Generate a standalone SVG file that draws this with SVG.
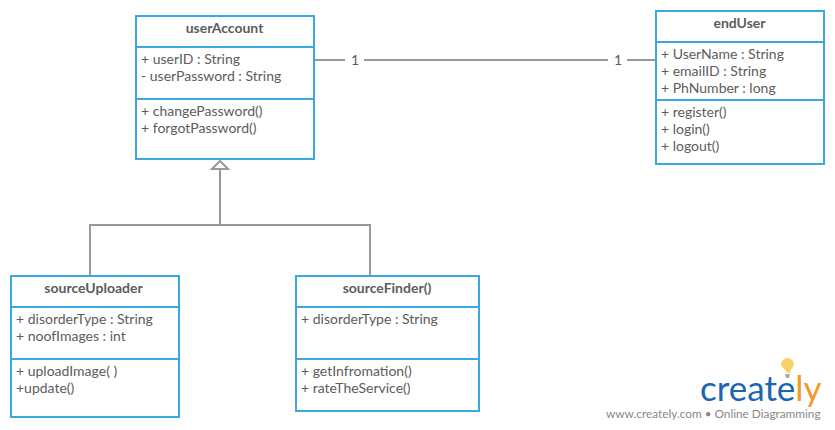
<svg xmlns="http://www.w3.org/2000/svg" width="835" height="430" viewBox="0 0 835 430">
<style>
text{font-family:Lato,"Open Sans","Liberation Sans",sans-serif;fill:#5c5c5c;font-size:14px}
.t{font-weight:700;text-anchor:middle}
.b{fill:#fff;stroke:#39a8e0;stroke-width:2}
.d{fill:none;stroke:#39a8e0;stroke-width:2}
.c{fill:none;stroke:#999;stroke-width:2}
</style>
<rect width="835" height="430" fill="#fff"/>
<g id="connectors">
<path class="c" d="M315 60H345M364 60H608M627 60H656"/>
<path class="c" d="M220 169V225M90 276V225H370V276"/>
<path d="M212 169L220 161L228 169Z" fill="#fff" stroke="#999" stroke-width="2"/>
<text x="355" y="65" text-anchor="middle">1</text>
<text x="618" y="65" text-anchor="middle">1</text>
</g>
<g id="userAccount">
<rect class="b" x="136" y="16" width="178" height="143"/>
<path class="d" d="M136 47H314M136 99H314"/>
<text class="t" x="224.500" y="33">userAccount</text>
<text x="141" y="64">+ userID : String</text>
<text x="141" y="81">- userPassword : String</text>
<text x="141" y="116">+ changePassword()</text>
<text x="141" y="133">+ forgotPassword()</text>
</g>
<g id="endUser">
<rect class="b" x="656" y="11" width="168" height="153"/>
<path class="d" d="M656 42H824M656 100H824"/>
<text class="t" x="739.500" y="28">endUser</text>
<text x="661" y="59">+ UserName : String</text>
<text x="661" y="76">+ emailID : String</text>
<text x="661" y="93">+ PhNumber : long</text>
<text x="661" y="117">+ register()</text>
<text x="661" y="134">+ login()</text>
<text x="661" y="151">+ logout()</text>
</g>
<g id="sourceUploader">
<rect class="b" x="11" y="276" width="168" height="141"/>
<path class="d" d="M11 307H179M11 359H179"/>
<text class="t" x="93.500" y="293">sourceUploader</text>
<text x="16" y="324">+ disorderType : String</text>
<text x="16" y="341">+ noofImages : int</text>
<text x="16" y="376">+ uploadImage( )</text>
<text x="16" y="393">+update()</text>
</g>
<g id="sourceFinder">
<rect class="b" x="296" y="276" width="183" height="135"/>
<path class="d" d="M296 307H479M296 359H479"/>
<text class="t" x="387" y="293">sourceFinder()</text>
<text x="301" y="324">+ disorderType : String</text>
<text x="301" y="376">+ getInfromation()</text>
<text x="301" y="393">+ rateTheService()</text>
</g>
<g id="logo">
<path d="M787 373C785 369 781 367 781 364.500A6.500 6.500 0 0 1 794 364.500C794 367 790 369 790 373Z" fill="#f8d264"/>
<path d="M785 374H790L789 378H786Z" fill="#aaa"/>
<text x="700" y="401" style="font-size:35px;fill:#1b66ae">create<tspan style="fill:#f5992b">ly</tspan></text>
<text x="606" y="418" style="font-size:11.800px;fill:#888">www.creately.com • Online Diagramming</text>
</g>
</svg>
